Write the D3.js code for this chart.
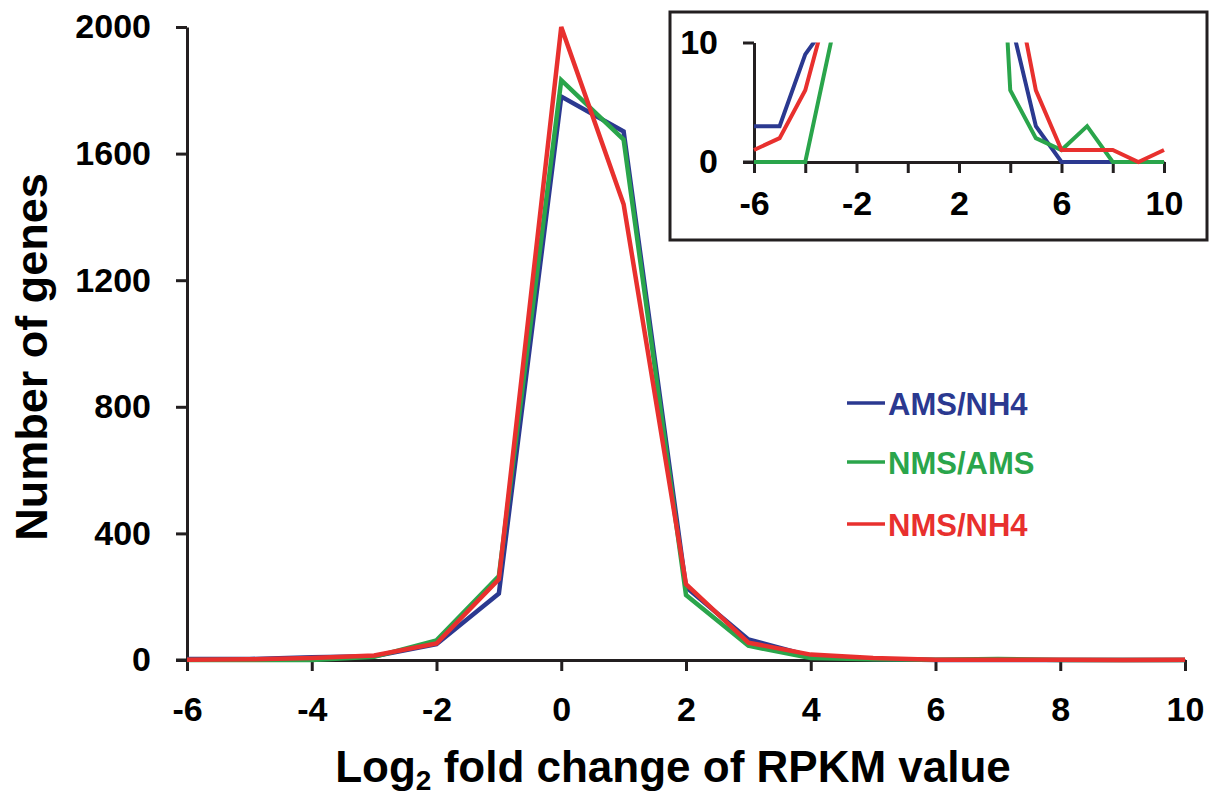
<!DOCTYPE html>
<html><head><meta charset="utf-8">
<script src="https://cdn.jsdelivr.net/npm/d3@7"></script>
<style>body{margin:0;background:#fff}svg{display:block}text{font-family:Arial,"Liberation Sans",sans-serif;font-weight:bold}</style>
</head><body>
<script>
const xValues = [-6,-5,-4,-3,-2,-1,0,1,2,3,4,5,6,7,8,9,10];
const amsNh4 = [3,3,9,12,50,210,1780,1670,230,65,12,3,0,0,0,0,0];
const nmsAms = [0,0,0,10,62,265,1832,1644,205,45,6,2,1,3,0,0,0];
const nmsNh4 = [1,2,6,14,52,255,2000,1440,240,55,17,6,1,1,1,0,1];
const seriesNames = ["AMS/NH4","NMS/AMS","NMS/NH4"];
const seriesColors = ["#2b3990","#2aa54b","#e8302e"];
const yTicks = [0,400,800,1200,1600,2000];
const xTicks = [-6,-4,-2,0,2,4,6,8,10];
const insetXTicks = [-6,-4,-2,0,2,4,6,8,10];
const insetXLabels = [-6,-2,2,6,10];
const insetYTicks = [0,10];

const W=1215,H=798;
const svg=d3.select("body").append("svg").attr("width",W).attr("height",H);
const ink="#231f20";
const allSeries=[amsNh4,nmsAms,nmsNh4];
const fmt=d=>String(d);
function styleAxis(a){
  a.select(".domain").attr("stroke",ink).attr("stroke-width",3);
  a.selectAll(".tick line").attr("stroke",ink).attr("stroke-width",3);
  a.selectAll(".tick text").attr("fill","#000").style("font-size","34px")
    .style("font-family","Arial,'Liberation Sans',sans-serif").style("font-weight","bold");
}

// main
const x=d3.scaleLinear().domain([-6,10]).range([187,1185]);
const y=d3.scaleLinear().domain([0,2000]).range([660,27]);

const xAxis=svg.append("g").attr("transform","translate(0,660)")
  .call(d3.axisBottom(x).tickValues(xTicks).tickSize(11).tickSizeOuter(0).tickPadding(26).tickFormat(fmt));
const yAxis=svg.append("g").attr("transform","translate(187,0)")
  .call(d3.axisLeft(y).tickValues(yTicks).tickSize(11).tickSizeOuter(0).tickPadding(25).tickFormat(fmt));
styleAxis(xAxis); styleAxis(yAxis);
svg.append("line").attr("x1",176).attr("x2",187).attr("y1",660).attr("y2",660).attr("stroke",ink).attr("stroke-width",3);

const line=d3.line().x((d,i)=>x(xValues[i])).y(d=>y(d));
allSeries.forEach((s,k)=>{
  svg.append("path").datum(s).attr("d",line).attr("fill","none")
    .attr("stroke",seriesColors[k]).attr("stroke-width",4.5).attr("stroke-linejoin","miter");
});

// axis titles
svg.append("text").attr("transform","translate(47,357) rotate(-90)").attr("text-anchor","middle")
  .style("font-size","45px").attr("fill","#000").text("Number of genes");
const xt=svg.append("text").attr("x",673).attr("y",782).attr("text-anchor","middle").style("font-size","44px").attr("fill","#000");
xt.append("tspan").text("Log");
xt.append("tspan").attr("dy",8).style("font-size","28px").text("2");
xt.append("tspan").attr("dy",-8).text(" fold change of RPKM value");

// legend
const legY=[403,462,524];
seriesNames.forEach((n,k)=>{
  svg.append("line").attr("x1",847).attr("x2",885).attr("y1",legY[k]).attr("y2",legY[k])
    .attr("stroke",seriesColors[k]).attr("stroke-width",3.5);
  svg.append("text").attr("x",888).attr("y",legY[k]+12).style("font-size","31px").attr("fill",seriesColors[k]).text(n);
});

// inset
svg.append("rect").attr("x",670).attr("y",12).attr("width",537).attr("height",228)
  .attr("fill","#fff").attr("stroke",ink).attr("stroke-width",3);
const ix=d3.scaleLinear().domain([-6,10]).range([754,1164]);
const iy=d3.scaleLinear().domain([0,10]).range([162,42.5]);
svg.append("clipPath").attr("id","ic").append("rect").attr("x",740).attr("y",42.5).attr("width",440).attr("height",130);
const ixa=svg.append("g").attr("transform","translate(0,162)")
  .call(d3.axisBottom(ix).tickValues(insetXTicks).tickSize(11).tickSizeOuter(0).tickPadding(18)
    .tickFormat(d=>insetXLabels.includes(d)?fmt(d):""));
const iya=svg.append("g").attr("transform","translate(754,0)")
  .call(d3.axisLeft(iy).tickValues(insetYTicks).tickSize(11).tickSizeOuter(0).tickPadding(25).tickFormat(fmt));
styleAxis(ixa); styleAxis(iya);
svg.append("line").attr("x1",743).attr("x2",754).attr("y1",162).attr("y2",162).attr("stroke",ink).attr("stroke-width",3);
const iline=d3.line().x((d,i)=>ix(xValues[i])).y(d=>iy(d));
allSeries.forEach((s,k)=>{
  svg.append("path").datum(s).attr("d",iline).attr("fill","none").attr("clip-path","url(#ic)")
    .attr("stroke",seriesColors[k]).attr("stroke-width",4);
});
</script>
</body></html>
